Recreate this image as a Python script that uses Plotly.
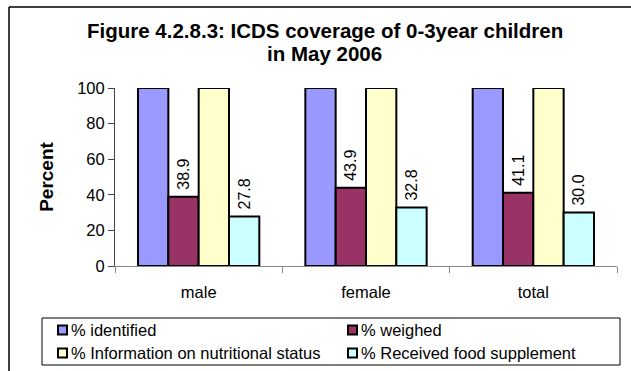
import plotly.graph_objects as go

# Data
categories = ["male", "female", "total"]
series_names = [
    "% identified",
    "% weighed",
    "% Information on nutritional status",
    "% Received food supplement",
]
identified = [100.0, 100.0, 100.0]
weighed = [38.9, 43.9, 41.1]
info_status = [100.0, 100.0, 100.0]
food_supplement = [27.8, 32.8, 30.0]
y_ticks = [0, 20, 40, 60, 80, 100]

series_values = [identified, weighed, info_status, food_supplement]
series_colors = ["#9999FF", "#993366", "#FFFFCC", "#CCFFFF"]
labelled = [False, True, False, True]

FONT = "Arial, 'Liberation Sans', sans-serif"
WIDTH, HEIGHT = 631, 371
L, R, T, B = 115, 14, 88, 105
PW = WIDTH - L - R
PH = HEIGHT - T - B


def fx(px):
    return (px - L) / PW


def fy(py):
    return (T + PH - py) / PH


fig = go.Figure()
for name, vals, color, lab in zip(series_names, series_values, series_colors, labelled):
    fig.add_trace(
        go.Bar(
            name=name,
            x=categories,
            y=vals,
            marker=dict(color=color, line=dict(color="black", width=2)),
            # small leading space lifts the rotated value label off the bar top
            texttemplate="\u2005%{y:.1f}" if lab else None,
            textposition="outside",
            textangle=-90,
            constraintext="none",
            textfont=dict(family=FONT, size=16, color="black"),
            cliponaxis=False,
            showlegend=False,
        )
    )

shapes = []
# Outer chart frame (left and top edges)
shapes.append(dict(type="line", xref="paper", yref="paper",
                   x0=fx(9), y0=fy(7), x1=fx(9), y1=fy(380),
                   line=dict(color="black", width=1.5)))
shapes.append(dict(type="line", xref="paper", yref="paper",
                   x0=fx(9), y0=fy(7), x1=fx(640), y1=fy(7),
                   line=dict(color="black", width=1.5)))

# Legend box
shapes.append(dict(type="rect", xref="paper", yref="paper",
                   x0=fx(42), y0=fy(318), x1=fx(620), y1=fy(365),
                   line=dict(color="black", width=1), fillcolor="white"))

annotations = []
legend_pos = [(62.5, 330), (352.5, 330), (62.5, 353), (352.5, 353)]
for name, color, (cx, cy) in zip(series_names, series_colors, legend_pos):
    s = 4.5
    shapes.append(dict(type="rect", xref="paper", yref="paper",
                       x0=fx(cx - s), y0=fy(cy - s), x1=fx(cx + s), y1=fy(cy + s),
                       line=dict(color="black", width=2), fillcolor=color))
    annotations.append(dict(xref="paper", yref="paper", x=fx(cx + 6), y=fy(cy),
                            xanchor="left", yanchor="middle", showarrow=False,
                            text=name, font=dict(family=FONT, size=16.5, color="black")))

# Two-line bold title
annotations.append(dict(xref="paper", yref="paper", x=fx(325), y=fy(30),
                        xanchor="center", yanchor="middle", showarrow=False,
                        text="<b>Figure 4.2.8.3: ICDS coverage of 0-3year children</b>",
                        font=dict(family=FONT, size=20.5, color="black")))
annotations.append(dict(xref="paper", yref="paper", x=fx(324), y=fy(54),
                        xanchor="center", yanchor="middle", showarrow=False,
                        text="<b>in May 2006</b>",
                        font=dict(family=FONT, size=20.5, color="black")))

fig.update_layout(
    width=WIDTH,
    height=HEIGHT,
    margin=dict(l=L, r=R, t=T, b=B, pad=0),
    paper_bgcolor="white",
    plot_bgcolor="white",
    barmode="group",
    bargap=0.275,
    bargroupgap=0,
    showlegend=False,
    shapes=shapes,
    annotations=annotations,
    font=dict(family=FONT, color="black"),
)

fig.update_xaxes(
    showline=True, linecolor="#888888", linewidth=1,
    ticks="outside", tickson="boundaries", ticklen=6, tickcolor="#888888",
    tickfont=dict(family=FONT, size=16.5, color="black"),
    ticklabelstandoff=11,
    showgrid=False, zeroline=False,
)
fig.update_yaxes(
    range=[0, 100], tickvals=y_ticks,
    showline=True, linecolor="#444444", linewidth=1,
    ticks="outside", ticklen=6, tickcolor="#444444",
    tickfont=dict(family=FONT, size=16.5, color="black"),
    showgrid=False, zeroline=False,
    title=dict(text="<b>Percent</b>", font=dict(family=FONT, size=19, color="black"), standoff=18),
)

fig.write_html("out.html")
